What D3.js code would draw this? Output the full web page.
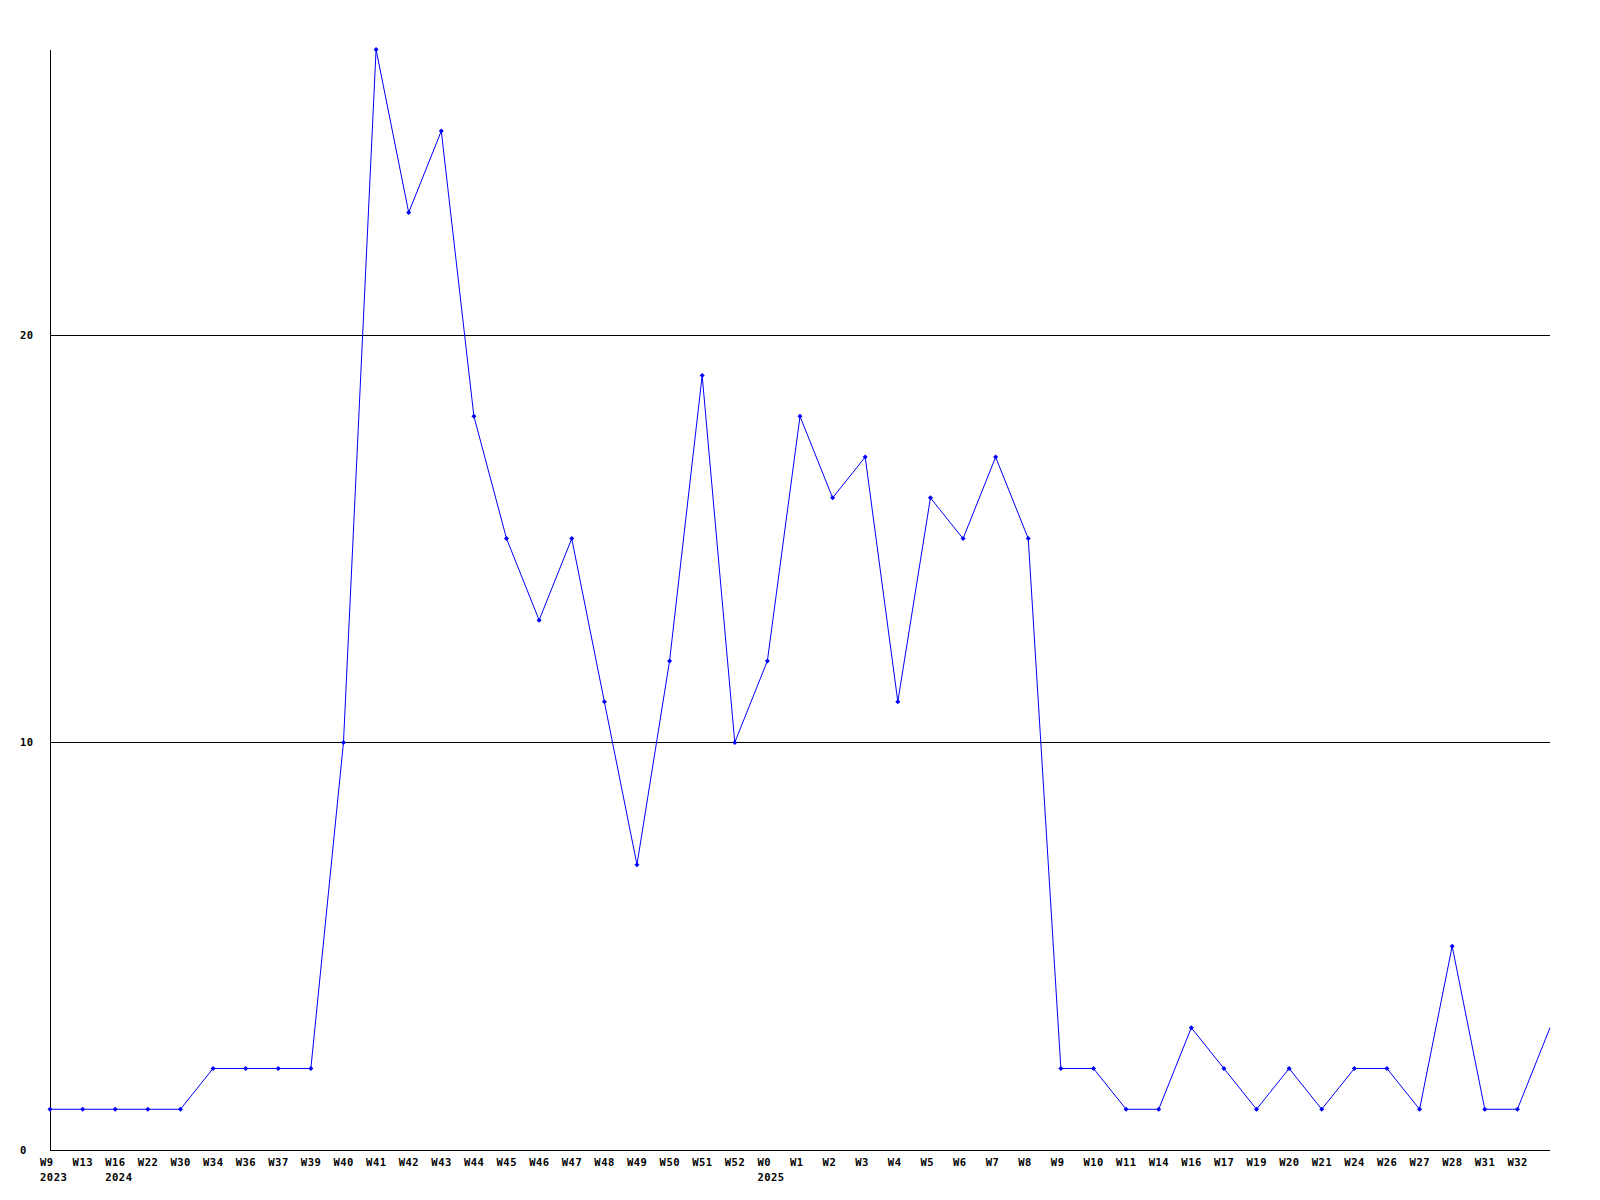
<!DOCTYPE html>
<html>
<head>
<meta charset="utf-8">
<script src="https://cdn.jsdelivr.net/npm/d3@7"></script>
<style>
  html, body { margin: 0; padding: 0; background: #ffffff; }
  svg { display: block; }
  text { font-family: "DejaVu Sans Mono", monospace; font-weight: bold; font-size: 10.5px; letter-spacing: 0.5px; fill: #000; }
</style>
</head>
<body>
<script>
// ---- data ----
const weekLabels = ["W9","W13","W16","W22","W30","W34","W36","W37","W39","W40",
  "W41","W42","W43","W44","W45","W46","W47","W48","W49","W50",
  "W51","W52","W0","W1","W2","W3","W4","W5","W6","W7",
  "W8","W9","W10","W11","W14","W16","W17","W19","W20","W21",
  "W24","W26","W27","W28","W31","W32",""];
const yearLabels = ["2023","","2024","","","","","","","",
  "","","","","","","","","","",
  "","","2025","","","","","","","",
  "","","","","","","","","","",
  "","","","","","",""];
const values = [1,1,1,1,1,2,2,2,2,10,
  27,23,25,18,15,13,15,11,7,12,
  19,10,12,18,16,17,11,16,15,17,
  15,2,2,1,1,3,2,1,2,1,
  2,2,1,5,1,1,3];
const yTicks = [0, 10, 20];
const yMax = 27;

// ---- layout ----
const W = 1600, H = 1200;
const mLeft = 50, mRight = 1550, mTop = 49.5, mBottom = 1150;

const svg = d3.select("body").append("svg").attr("width", W).attr("height", H);

const idx = d3.range(values.length);
const x = d3.scaleLinear().domain([0, values.length - 1]).range([mLeft, mRight]);
const y = d3.scaleLinear().domain([0, yMax]).range([mBottom, mTop]);

const defs = svg.append("defs");
defs.append("clipPath").attr("id", "plotclip")
  .append("rect").attr("x", 0).attr("y", 0).attr("width", mRight + 1).attr("height", H);
defs.append("clipPath").attr("id", "markclip")
  .append("rect").attr("x", 0).attr("y", 0).attr("width", mRight - 3).attr("height", H);

const fontStyle = sel => sel.style("font-family", "DejaVu Sans Mono").style("font-size", "10.5px").style("font-weight", "bold");

// gridlines (0 line acts as x axis)
const yAxis = d3.axisLeft(y).tickValues(yTicks).tickSize(-(mRight - mLeft)).tickFormat(d3.format("d"));
const gy = svg.append("g").attr("transform", `translate(${mLeft},0)`).call(yAxis);
gy.select(".domain").remove();
gy.selectAll(".tick line").attr("stroke", "#000").attr("stroke-width", 1).attr("shape-rendering", "crispEdges");
gy.selectAll(".tick text").attr("x", -30).attr("dy", "0.32em").attr("text-anchor", "start").call(fontStyle);

// y axis line
svg.append("line").attr("x1", mLeft).attr("x2", mLeft).attr("y1", y(yMax)).attr("y2", mBottom)
  .attr("stroke", "#000").attr("stroke-width", 1).attr("shape-rendering", "crispEdges");

// x labels
const xAxis = d3.axisBottom(x).tickValues(idx).tickSize(0).tickFormat(i => weekLabels[i]);
const gx = svg.append("g").attr("transform", `translate(0,${mBottom})`).call(xAxis);
gx.select(".domain").remove();
gx.selectAll(".tick text").attr("text-anchor", "start").attr("x", -10.5).attr("y", 16).attr("dy", 0).call(fontStyle);
gx.selectAll(".tick").append("text").attr("fill", "#000").attr("text-anchor", "start").attr("x", -10.5).attr("y", 30.5)
  .call(fontStyle)
  .text(i => yearLabels[i]);

// line + markers
const plot = svg.append("g").attr("clip-path", "url(#plotclip)");
const line = d3.line().x(i => x(i)).y(i => y(values[i]));
plot.append("path").datum(idx).attr("d", line).attr("fill", "none")
  .attr("stroke", "#0000ff").attr("stroke-width", 1);
svg.append("g").attr("clip-path", "url(#markclip)")
  .selectAll("path.m").data(idx).enter().append("path").attr("class", "m")
  .attr("d", i => { const cx = x(i), cy = y(values[i]); return `M${cx-2.5},${cy}L${cx},${cy-2.5}L${cx+2.5},${cy}L${cx},${cy+2.5}Z`; })
  .attr("fill", "#0000ff");
</script>
</body>
</html>
